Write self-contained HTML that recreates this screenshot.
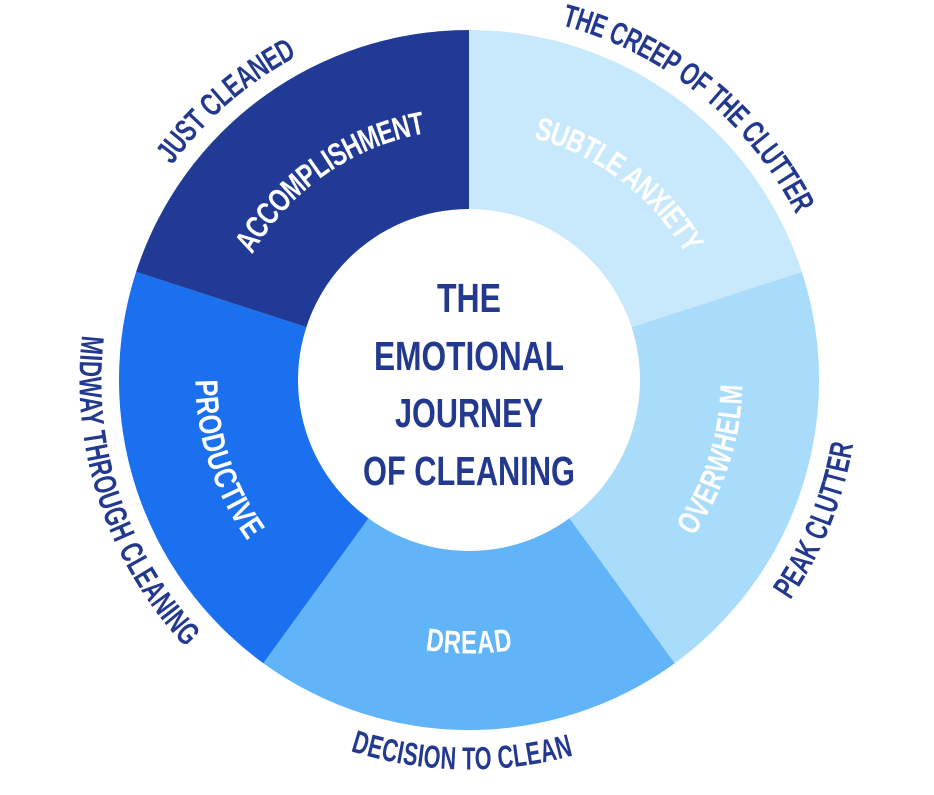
<!DOCTYPE html>
<html><head><meta charset="utf-8"><style>
html,body{margin:0;padding:0;background:#fff;}
svg{display:block;}
text{font-family:"Liberation Sans Narrow","Liberation Sans",sans-serif;font-weight:bold;}
</style></head><body>
<svg width="934" height="795" viewBox="0 0 934 795" xmlns="http://www.w3.org/2000/svg">
<defs>
<path id="cwO" d="M469,2 A378,378 0 1 1 469,758 A378,378 0 1 1 469,2"/>
<path id="ccwO" d="M469,2 A378,378 0 1 0 469,758 A378,378 0 1 0 469,2"/>
<path id="cwI" d="M469,118 A262,262 0 1 1 469,642 A262,262 0 1 1 469,118"/>
<path id="ccwI" d="M469,118 A262,262 0 1 0 469,642 A262,262 0 1 0 469,118"/>
</defs>
<path d="M469,380 L469,30 A350,350 0 0 1 801.9,271.9 Z" fill="#c8e8fc"/>
<path d="M469,380 L801.9,271.9 A350,350 0 0 1 674.7,663.2 Z" fill="#a9dcfb"/>
<path d="M469,380 L674.7,663.2 A350,350 0 0 1 263.3,663.2 Z" fill="#60b4f7"/>
<path d="M469,380 L263.3,663.2 A350,350 0 0 1 136.1,271.9 Z" fill="#1a70ef"/>
<path d="M469,380 L136.1,271.9 A350,350 0 0 1 469,30 Z" fill="#203a96"/>
<circle cx="469" cy="380" r="171" fill="#fff"/>

<g font-size="32" fill="#fff">
<text dy="0.36em"><textPath href="#cwI" startOffset="90.3%" text-anchor="middle" textLength="228" lengthAdjust="spacingAndGlyphs">ACCOMPLISHMENT</textPath></text>
<text dy="0.36em"><textPath href="#cwI" startOffset="10.4%" text-anchor="middle" textLength="205" lengthAdjust="spacingAndGlyphs">SUBTLE ANXIETY</textPath></text>
<text dy="0.36em"><textPath href="#ccwI" startOffset="70%" text-anchor="middle" textLength="155" lengthAdjust="spacingAndGlyphs">OVERWHELM</textPath></text>
<text dy="0.36em"><textPath href="#ccwI" startOffset="50%" text-anchor="middle" textLength="85" lengthAdjust="spacingAndGlyphs">DREAD</textPath></text>
<text dy="0.36em"><textPath href="#ccwI" startOffset="30%" text-anchor="middle" textLength="165" lengthAdjust="spacingAndGlyphs">PRODUCTIVE</textPath></text>
</g>

<g font-size="32" fill="#23398f">
<text dy="0.36em"><textPath href="#cwO" startOffset="88.6%" text-anchor="middle" textLength="172" lengthAdjust="spacingAndGlyphs">JUST CLEANED</textPath></text>
<text dy="0.36em"><textPath href="#cwO" startOffset="10.8%" text-anchor="middle" textLength="320" lengthAdjust="spacingAndGlyphs">THE CREEP OF THE CLUTTER</textPath></text>
<text dy="0.36em"><textPath href="#ccwO" startOffset="68.9%" text-anchor="middle" textLength="165" lengthAdjust="spacingAndGlyphs">PEAK CLUTTER</textPath></text>
<text dy="0.36em"><textPath href="#ccwO" startOffset="49.7%" text-anchor="middle" textLength="220" lengthAdjust="spacingAndGlyphs">DECISION TO CLEAN</textPath></text>
<text dy="0.36em"><textPath href="#ccwO" startOffset="30.1%" text-anchor="middle" textLength="330" lengthAdjust="spacingAndGlyphs">MIDWAY THROUGH CLEANING</textPath></text>
</g>

<g font-size="41" fill="#23398f" text-anchor="middle">
<text x="469" y="312" textLength="64" lengthAdjust="spacingAndGlyphs">THE</text>
<text x="469" y="370" textLength="190" lengthAdjust="spacingAndGlyphs">EMOTIONAL</text>
<text x="469" y="427" textLength="148" lengthAdjust="spacingAndGlyphs">JOURNEY</text>
<text x="469" y="485" textLength="212" lengthAdjust="spacingAndGlyphs">OF CLEANING</text>
</g>
</svg>
</body></html>
